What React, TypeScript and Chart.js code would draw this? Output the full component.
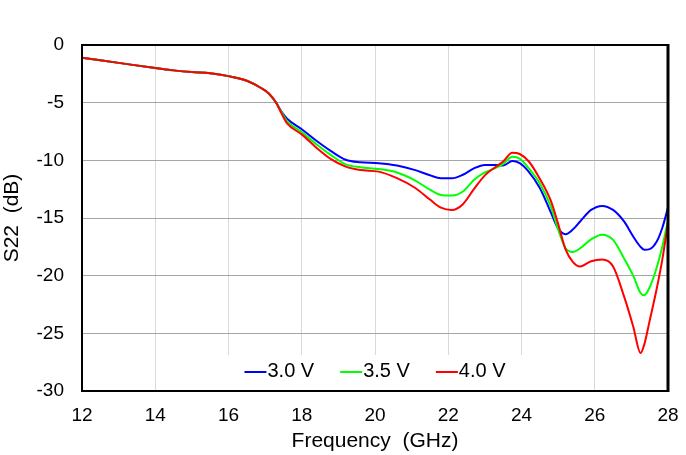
import React, { useEffect, useRef } from 'react';
import { Chart, registerables } from 'chart.js';

Chart.register(...registerables);

const freqGHz = [
  12, 13, 14, 14.5, 15, 15.5, 16, 16.5, 16.9, 17.1, 17.3, 17.45, 17.6, 18, 18.4, 18.8,
  19.2, 19.6, 20.1, 20.6, 21.1, 21.5, 21.8, 22.1, 22.4, 22.7, 23.0, 23.3, 23.5, 23.75,
  23.95, 24.2, 24.5, 24.8, 25.0, 25.2, 25.4, 25.6, 25.9, 26.2, 26.5, 26.8, 27.05, 27.25,
  27.35, 27.5, 27.7, 27.85, 28,
];

const s22At3V0 = [
  -1.1, -1.55, -2.0, -2.2, -2.35, -2.45, -2.7, -3.1, -3.75, -4.2, -5.0, -5.8, -6.4, -7.3, -8.3, -9.2,
  -9.95, -10.17, -10.25, -10.45, -10.85, -11.3, -11.55, -11.56, -11.25, -10.7, -10.4, -10.4, -10.45, -10.06,
  -10.25, -11.0, -12.4, -14.5, -15.9, -16.4, -16.0, -15.3, -14.3, -13.95, -14.3, -15.3, -16.6, -17.5,
  -17.75, -17.7, -17.0, -15.8, -14.1,
];

const s22At3V5 = [
  -1.1, -1.55, -2.0, -2.2, -2.35, -2.45, -2.7, -3.1, -3.75, -4.2, -5.0, -5.85, -6.6, -7.55, -8.6, -9.55,
  -10.35, -10.6, -10.75, -11.05, -11.75, -12.55, -13.0, -13.05, -12.7, -11.7, -11.05, -10.65, -10.3, -9.7,
  -9.85, -10.7, -12.0, -14.0, -16.0, -17.6, -17.95, -17.63, -16.85, -16.45, -16.9, -18.5, -20.0, -21.5,
  -21.7, -21.0, -19.2, -17.4, -15.2,
];

const s22At4V0 = [
  -1.1, -1.55, -2.0, -2.2, -2.35, -2.45, -2.7, -3.1, -3.75, -4.2, -5.0, -5.95, -6.8, -7.75, -8.9, -9.9,
  -10.55, -10.84, -10.98, -11.55, -12.4, -13.4, -14.1, -14.3, -13.8, -12.5, -11.3, -10.55, -10.1, -9.35,
  -9.45, -10.1, -11.6, -13.5, -15.5, -17.7, -18.8, -19.2, -18.75, -18.6, -19.2, -21.8, -24.4, -26.7,
  -26.0, -23.9, -21.0, -18.5, -15.4,
];

const seriesLabels = ['3.0 V', '3.5 V', '4.0 V'];
const seriesColors = ['#0000ff', '#00ff00', '#ff0000'];
const xTitle = 'Frequency  (GHz)';
const yTitle = 'S22  (dB)';

const FONT = '"Liberation Sans", Arial, sans-serif';

const insideLegend = {
  id: 'insideLegend',
  beforeDatasetsDraw(chart: any) {
    const { ctx, chartArea } = chart;
    const cx = (chartArea.left + chartArea.right) / 2;
    ctx.save();
    ctx.fillStyle = '#ffffff';
    ctx.fillRect(cx - 149, chartArea.bottom - 36, 298, 36);
    ctx.font = `20px ${FONT}`;
    const lineLen = 22;
    const gapText = 1;
    const gapItem = 26;
    const widths = seriesLabels.map((l) => lineLen + gapText + ctx.measureText(l).width);
    const total = widths.reduce((a, b) => a + b, 0) + gapItem * (widths.length - 1);
    let x = cx - total / 2;
    const y = chartArea.bottom - 20;
    seriesLabels.forEach((label, i) => {
      ctx.strokeStyle = seriesColors[i];
      ctx.lineWidth = 2;
      ctx.beginPath();
      ctx.moveTo(x, y + 1);
      ctx.lineTo(x + lineLen, y + 1);
      ctx.stroke();
      ctx.fillStyle = '#000000';
      ctx.textBaseline = 'middle';
      ctx.textAlign = 'left';
      ctx.fillText(label, x + lineLen + gapText, y);
      x += widths[i] + gapItem;
    });
    ctx.restore();
  },
  afterDraw(chart: any) {
    const { ctx, chartArea } = chart;
    ctx.save();
    ctx.strokeStyle = '#000000';
    ctx.lineWidth = 2;
    ctx.strokeRect(chartArea.left, chartArea.top, chartArea.right - chartArea.left, chartArea.bottom - chartArea.top);
    ctx.lineWidth = 3;
    ctx.beginPath();
    ctx.moveTo(chartArea.right, chartArea.top - 1);
    ctx.lineTo(chartArea.right, chartArea.bottom + 1);
    ctx.stroke();
    ctx.restore();
  },
};

export default function App() {
  const canvasRef = useRef<HTMLCanvasElement | null>(null);

  useEffect(() => {
    const canvas = canvasRef.current;
    if (!canvas) return;
    const datasets = [s22At3V0, s22At3V5, s22At4V0].map((vals, i) => ({
      label: seriesLabels[i],
      data: freqGHz.map((f, j) => ({ x: f, y: vals[j] })),
      borderColor: seriesColors[i],
      backgroundColor: seriesColors[i],
      borderWidth: 2,
      pointRadius: 0,
      cubicInterpolationMode: 'monotone' as const,
      fill: false,
      order: 2 - i,
    }));
    const chart = new Chart(canvas, {
      type: 'line',
      data: { datasets },
      options: {
        animation: false,
        responsive: false,
        devicePixelRatio: 1,
        layout: { padding: { left: 0, top: 45, right: 18, bottom: 0 } },
        plugins: {
          legend: { display: false },
          tooltip: { enabled: false },
        },
        scales: {
          x: {
            type: 'linear',
            min: 12,
            max: 28,
            ticks: {
              stepSize: 2,
              padding: 13,
              color: '#000000',
              font: { family: FONT, size: 19 },
              maxRotation: 0,
            },
            grid: { color: '#d9d9d9', lineWidth: 1, drawTicks: false },
            border: { display: false },
            title: {
              display: true,
              text: xTitle,
              color: '#000000',
              font: { family: FONT, size: 21 },
              padding: { top: 0, bottom: 1 },
            },
            afterFit: (scale: any) => {
              scale.height = 64;
              scale.paddingLeft = 0;
              scale.paddingRight = 0;
            },
          },
          y: {
            type: 'linear',
            min: -30,
            max: 0,
            ticks: {
              stepSize: 5,
              padding: 18,
              color: '#000000',
              font: { family: FONT, size: 19 },
            },
            grid: { color: '#a6a6a6', lineWidth: 1, drawTicks: false },
            border: { display: false },
            title: {
              display: true,
              text: yTitle,
              color: '#000000',
              font: { family: FONT, size: 21 },
              padding: { top: 0, bottom: 0 },
            },
            afterFit: (scale: any) => {
              scale.width = 82;
              scale.paddingTop = 0;
              scale.paddingBottom = 0;
            },
          },
        },
      },
      plugins: [insideLegend],
    });
    return () => chart.destroy();
  }, []);

  return (
    <div style={{ position: 'fixed', left: 0, top: 0, width: 686, height: 455, background: '#ffffff' }}>
      <canvas ref={canvasRef} width={686} height={455} style={{ display: 'block' }} />
    </div>
  );
}
